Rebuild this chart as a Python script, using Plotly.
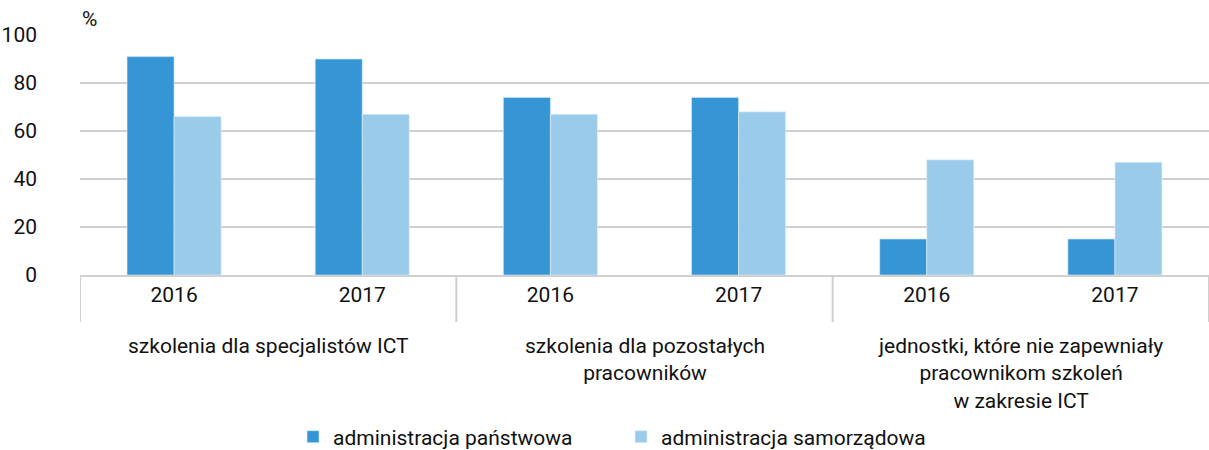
import plotly.graph_objects as go

groups = ["szkolenia dla specjalistów ICT",
          "szkolenia dla pozostałych<br>pracowników",
          "jednostki, które nie zapewniały<br>pracownikom szkoleń<br>w zakresie ICT"]
years = ["2016", "2017", "2016", "2017", "2016", "2017"]
panstwowa = [91, 90, 74, 74, 15, 15]
samorzadowa = [66, 67, 67, 68, 48, 47]
y_ticks = [0, 20, 40, 60, 80, 100]

FONT = "Roboto, sans-serif"
FS = 21
x = list(range(len(years)))

fig = go.Figure()
fig.add_trace(go.Bar(x=x, y=panstwowa, name="administracja państwowa",
                     marker=dict(color="#3595d5", line=dict(width=0.6, color="#d8ecf9"))))
fig.add_trace(go.Bar(x=x, y=samorzadowa, name="administracja samorządowa",
                     marker=dict(color="#9acbea", line=dict(width=0.6, color="#e6f2fb"))))

fig.update_layout(
    width=1209, height=450,
    margin=dict(l=80, r=0, t=35, b=175, autoexpand=False),
    barmode="group", bargap=0.5, bargroupgap=0,
    plot_bgcolor="white", paper_bgcolor="white",
    font=dict(family=FONT, size=FS, color="#111111"),
    legend=dict(orientation="h", x=0.1887, xanchor="left", y=-0.675, yanchor="middle",
                font=dict(size=FS), traceorder="normal", entrywidth=283,
                entrywidthmode="pixels", itemwidth=30),
    showlegend=True,
)
fig.update_xaxes(range=[-0.5, 5.5], tickmode="array", tickvals=x, ticktext=years,
                 showgrid=False, zeroline=False, showline=True, linecolor="#d0d0d0",
                 linewidth=2, ticks="", tickfont=dict(size=FS), automargin=False)
fig.update_yaxes(range=[0, 100], tickmode="array", tickvals=y_ticks,
                 showgrid=True, gridcolor="#d0d0d0", gridwidth=1.5,
                 zeroline=False, showline=False, ticks="",
                 ticklabelstandoff=42, tickfont=dict(size=FS), automargin=False)

for xv in [-0.5, 1.5, 3.5, 5.5]:
    fig.add_shape(type="line", xref="x", yref="paper", x0=xv, x1=xv, y0=0, y1=-0.196,
                  line=dict(color="#d0d0d0", width=2))

for i, g in enumerate(groups):
    fig.add_annotation(x=2 * i + 0.5, y=-0.238, xref="x", yref="paper", text=g,
                       showarrow=False, yanchor="top", align="center",
                       font=dict(size=FS))

fig.add_annotation(x=0, y=1.0, xref="paper", yref="paper", text="%", showarrow=False,
                   xanchor="left", yanchor="bottom", yshift=2, font=dict(size=FS))

fig.write_html("out.html", config={"displayModeBar": False},
               post_script="document.body.style.margin='0';document.body.style.overflow='hidden';")
